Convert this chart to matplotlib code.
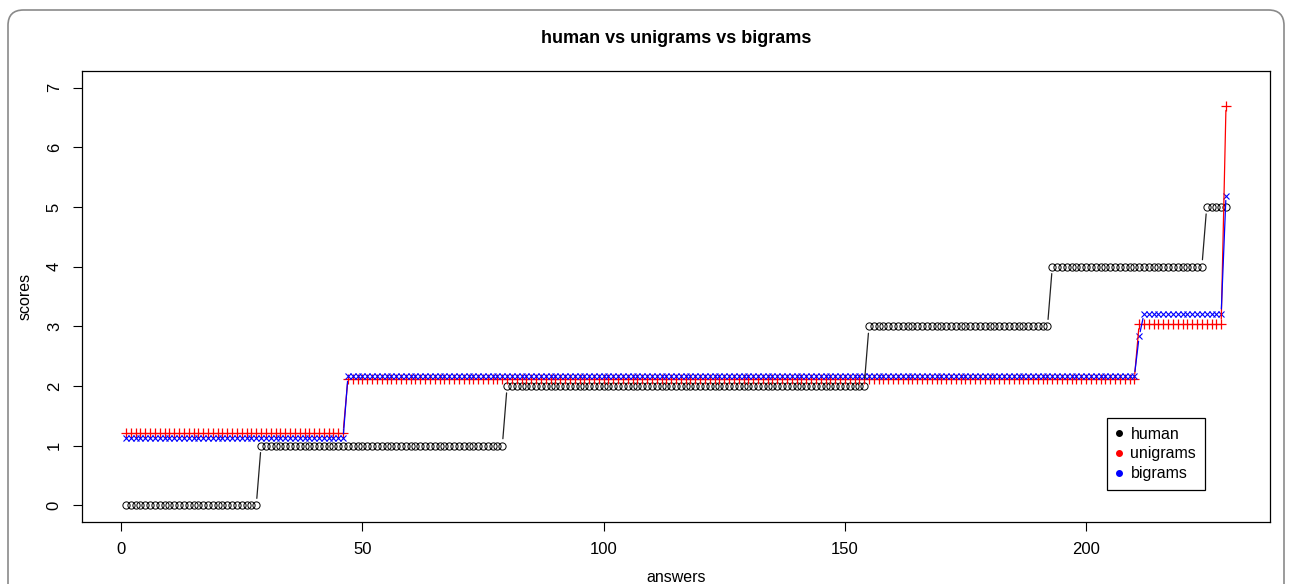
import matplotlib
matplotlib.use("Agg")
import matplotlib.pyplot as plt
import matplotlib.patches as mpatches
from matplotlib.lines import Line2D
import numpy as np

# --- dados ---
# cada faixa: (valor, quantidade de respostas consecutivas)
HUMANO_FAIXAS = [(0, 28), (1, 51), (2, 75), (3, 38), (4, 32), (5, 5)]
UNIGRAMAS_FAIXAS = [(1.22, 46), (2.12, 164), (3.04, 18), (6.70, 1)]
BIGRAMAS_FAIXAS = [(1.12, 46), (2.16, 164), (2.83, 1), (3.21, 17), (5.19, 1)]

TITULO = "human vs unigrams vs bigrams"
ROTULO_X = "answers"
ROTULO_Y = "scores"
LEGENDA = ["human", "unigrams", "bigrams"]
TICKS_X = [0, 50, 100, 150, 200]
TICKS_Y = [0, 1, 2, 3, 4, 5, 6, 7]


def expandir(faixas):
    return np.concatenate([np.full(n, v, dtype=float) for v, n in faixas])


humano = expandir(HUMANO_FAIXAS)
unigramas = expandir(UNIGRAMAS_FAIXAS)
bigramas = expandir(BIGRAMAS_FAIXAS)
x = np.arange(1, len(humano) + 1)

plt.rcParams["font.family"] = ["Liberation Sans", "DejaVu Sans"]

fig = plt.figure(figsize=(12.9, 5.84), dpi=100)
ax = fig.add_axes([82 / 1290, 62 / 584, 1188 / 1290, 451 / 584])

# moldura arredondada em volta da figura
moldura = mpatches.FancyBboxPatch(
    (8 / 1290, -0.1), 1276 / 1290, (574 / 584) + 0.1,
    boxstyle="round,pad=0,rounding_size=0.012",
    transform=fig.transFigure, facecolor="none",
    edgecolor="#8a8a8a", linewidth=1.2, mutation_aspect=2.2)
fig.patches.append(moldura)


def linhas_tipo_b(ax, xs, ys, cor, encolher=5.0, lw=0.9):
    """Imita type='b' do R: liga pontos com folga em volta dos marcadores."""
    for i in range(len(xs) - 1):
        if ys[i] == ys[i + 1]:
            continue
        ax.annotate("", xy=(xs[i + 1], ys[i + 1]), xytext=(xs[i], ys[i]),
                    arrowprops=dict(arrowstyle="-", color=cor, lw=lw,
                                    shrinkA=encolher, shrinkB=encolher))


linhas_tipo_b(ax, x, humano, "#222222")
linhas_tipo_b(ax, x, unigramas, "#ff0000", encolher=3.5)
linhas_tipo_b(ax, x, bigramas, "#0000ff", encolher=3.5)

ax.plot(x, humano, linestyle="none", marker="o", markersize=5.2,
        markerfacecolor="none", markeredgecolor="black", markeredgewidth=0.7)
ax.plot(x, unigramas, linestyle="none", marker="+", markersize=7,
        color="#ff0000", markeredgewidth=0.9)
ax.plot(x, bigramas, linestyle="none", marker="x", markersize=5,
        color="#0000ff", markeredgewidth=0.8)

ax.set_xlim(1 - 0.04 * 228, 229 + 0.04 * 228)
ax.set_ylim(-0.28, 7.28)
ax.set_xticks(TICKS_X)
ax.set_yticks(TICKS_Y)
ax.tick_params(axis="both", direction="out", length=6.5, width=0.8,
               labelsize=12, pad=8)
ax.tick_params(axis="y", labelrotation=90)
for lbl in ax.get_yticklabels():
    lbl.set_va("center")
for s in ax.spines.values():
    s.set_linewidth(0.9)

ax.set_title(TITULO, fontsize=13, fontweight="bold", pad=20)
ax.set_xlabel(ROTULO_X, fontsize=11.5, labelpad=9)
ax.set_ylabel(ROTULO_Y, fontsize=11.5, labelpad=10)

handles = [Line2D([], [], linestyle="none", marker="o", markersize=4, color=c)
           for c in ["black", "#ff0000", "#0000ff"]]
leg = ax.legend(handles, LEGENDA, loc="lower right",
                bbox_to_anchor=(0.9453, 0.071), borderaxespad=0,
                fontsize=11.5, frameon=True, fancybox=False, edgecolor="black",
                framealpha=1, handlelength=0.4, handletextpad=0.55,
                labelspacing=0.3, borderpad=0.55)
leg.get_frame().set_linewidth(0.9)

fig.savefig("out.png", dpi=100, facecolor="white")
